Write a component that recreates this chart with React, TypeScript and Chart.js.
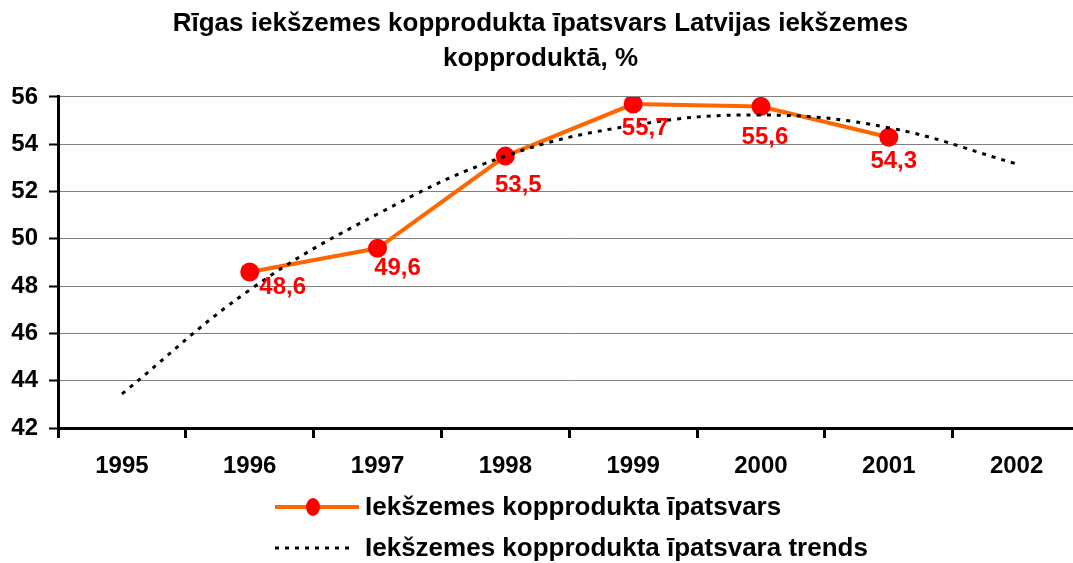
import React, { useEffect, useRef } from "react";
import { Chart, registerables } from "chart.js";

Chart.register(...registerables);

const years = ["1995", "1996", "1997", "1998", "1999", "2000", "2001", "2002"];
const shareValues: (number | null)[] = [null, 48.6, 49.6, 53.5, 55.7, 55.6, 54.3, null];
const trendValues = [43.44, 47.84, 51.05, 53.5, 54.8, 55.24, 54.7, 53.17];
const yTickValues = [42, 44, 46, 48, 50, 52, 54, 56];
const titleLines = ["Rīgas iekšzemes kopprodukta īpatsvars Latvijas iekšzemes", "kopproduktā, %"];
const seriesLabels = ["Iekšzemes kopprodukta īpatsvars", "Iekšzemes kopprodukta īpatsvara trends"];

const FONT = "'Liberation Sans', Arial, Helvetica, sans-serif";
const ORANGE = "#FF6600";
const RED = "#FF0000";

// label placement offsets (px, relative to each point) – style only
const labelOffsets = [
  [0, 0],
  [33, 15],
  [20, 20],
  [13, 29],
  [12, 24],
  [4, 31],
  [5, 24],
  [0, 0],
];

const dataLabelPlugin = {
  id: "dataLabels",
  afterDatasetsDraw(chart: any) {
    const meta = chart.getDatasetMeta(0);
    const values = chart.data.datasets[0].data;
    const ctx = chart.ctx;
    ctx.save();
    ctx.font = `bold 24px ${FONT}`;
    ctx.fillStyle = RED;
    ctx.textAlign = "center";
    ctx.textBaseline = "middle";
    meta.data.forEach((pt: any, i: number) => {
      const v = values[i];
      if (v === null || v === undefined) return;
      const off = labelOffsets[i] || [0, 20];
      ctx.fillText(String(v.toFixed(1)).replace(".", ","), pt.x + off[0], pt.y + off[1]);
    });
    ctx.restore();
  },
};

const customLegendPlugin = {
  id: "customLegend",
  afterDraw(chart: any) {
    const ctx = chart.ctx;
    const rowsY = [507, 548];
    const lineStart = 275;
    const textX = 365;
    ctx.save();
    chart.data.datasets.forEach((ds: any, i: number) => {
      const y = rowsY[i];
      if (y === undefined) return;
      ctx.beginPath();
      ctx.lineWidth = ds.borderWidth;
      ctx.strokeStyle = ds.borderColor;
      ctx.setLineDash(ds.borderDash || []);
      ctx.moveTo(lineStart, y);
      ctx.lineTo(i === 0 ? 359 : 352, y);
      ctx.stroke();
      ctx.setLineDash([]);
      if (ds.pointRadius > 0) {
        ctx.beginPath();
        ctx.fillStyle = ds.pointBackgroundColor;
        ctx.ellipse(313, y, 7, 9, 0, 0, Math.PI * 2);
        ctx.fill();
      }
      ctx.fillStyle = "#000";
      ctx.font = `bold 26px ${FONT}`;
      ctx.textAlign = "left";
      ctx.textBaseline = "middle";
      ctx.fillText(ds.label, textX, y + 1);
    });
    ctx.restore();
  },
};

export default function App() {
  const canvasRef = useRef<HTMLCanvasElement | null>(null);

  useEffect(() => {
    if (!canvasRef.current) return;
    const chart = new Chart(canvasRef.current, {
      type: "line",
      data: {
        labels: years,
        datasets: [
          {
            label: seriesLabels[0],
            data: shareValues,
            borderColor: ORANGE,
            borderWidth: 4,
            pointRadius: 9.5,
            pointBackgroundColor: RED,
            pointBorderColor: RED,
            pointBorderWidth: 0,
            tension: 0,
            order: 1,
          },
          {
            label: seriesLabels[1],
            data: trendValues,
            borderColor: "#000",
            borderWidth: 3,
            borderDash: [4, 6],
            pointRadius: 0,
            tension: 0.4,
            order: 0,
          },
        ],
      },
      options: {
        responsive: false,
        animation: false,
        layout: { padding: { left: 0, right: 9, top: 0, bottom: 0 } },
        plugins: {
          legend: { display: false },
          tooltip: { enabled: false },
          title: {
            display: true,
            text: titleLines,
            color: "#000",
            font: { family: FONT, size: 26, weight: "bold", lineHeight: 1.346 },
            padding: { top: 6, bottom: 21 },
          },
        },
        scales: {
          x: {
            type: "category",
            offset: true,
            grid: {
              display: true,
              drawOnChartArea: false,
              drawTicks: true,
              tickLength: 10,
              tickWidth: 3,
              tickColor: "#000",
              offset: true,
            },
            border: { display: true, color: "#000", width: 3 },
            ticks: {
              color: "#000",
              font: { family: FONT, size: 24, weight: "bold" },
              padding: 14,
              maxRotation: 0,
              autoSkip: false,
            },
            afterFit(scale: any) {
              scale.height = 135;
            },
          },
          y: {
            min: 42,
            max: 56,
            afterBuildTicks(scale: any) {
              scale.ticks = yTickValues.map((v) => ({ value: v }));
            },
            grid: {
              color: "#808080",
              lineWidth: 1,
              drawTicks: true,
              tickLength: 9,
              tickWidth: 2,
              tickColor: "#000",
            },
            border: { display: true, color: "#000", width: 3 },
            ticks: {
              color: "#000",
              font: { family: FONT, size: 24, weight: "bold" },
              padding: 11,
            },
            afterFit(scale: any) {
              scale.width = 58;
            },
          },
        },
      } as any,
      plugins: [dataLabelPlugin, customLegendPlugin],
    });
    return () => chart.destroy();
  }, []);

  return (
    <div
      style={{
        position: "absolute",
        left: 0,
        top: 0,
        width: 1073,
        height: 563,
        overflow: "hidden",
        background: "#fff",
      }}
    >
      <canvas ref={canvasRef} width={1090} height={563} style={{ display: "block" }} />
    </div>
  );
}
